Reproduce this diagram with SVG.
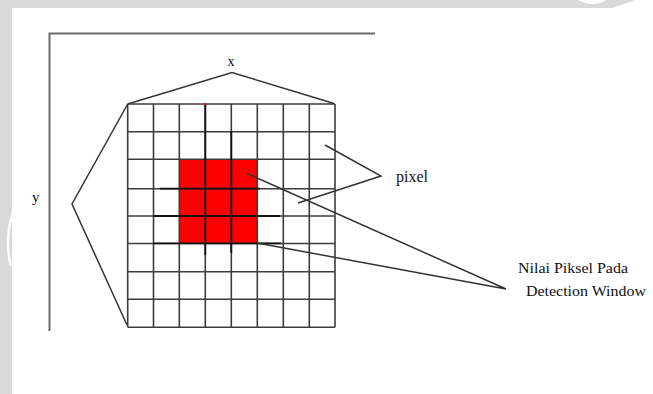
<svg xmlns="http://www.w3.org/2000/svg" width="653" height="394" viewBox="0 0 653 394">
  <style>
    .axis{stroke:#6a6a6a;stroke-width:2;fill:none}
    .grid{stroke:#3c3c3c;stroke-width:1.6;fill:none}
    .dark{stroke:#111;stroke-width:1.8;fill:none}
    .conn{stroke:#333;stroke-width:1.5;fill:none}
    .lbl{font-family:"Liberation Serif","Times New Roman",serif;fill:#111}
  </style>
  <g id="background">
    <rect x="0" y="0" width="653" height="394" fill="#d9d9d9"/>
    <rect x="12" y="8" width="641" height="386" fill="#ffffff"/>
    <path d="M578,0 Q590,7 603,2 L606,0 Z" fill="#ffffff"/>
    <path d="M612,8 L636,0 L653,0 L653,8 Z" fill="#ffffff"/>
    <path d="M13,212 Q4,240 11,266" stroke="#ffffff" stroke-width="2.5" fill="none"/>
  </g>
  <g id="axes">
    <path class="axis" d="M375,33.5 H49.5 V331"/>
  </g>
  <g id="grid">
    <rect x="179" y="159" width="78" height="84.5" fill="#ff0000"/>
    <path class="grid" d="M127.7,104V327.3M153.5,104V327.3M179.3,104V327.3M205.3,104V327.3M231.3,104V327.3M257.3,104V327.3M283.3,104V327.3M309.3,104V327.3M335,104V327.3"/>
    <path class="grid" d="M127.7,104H335M127.7,131.7H335M127.7,159.3H335M127.7,188.7H335M127.7,216H335M127.7,243.5H335M127.7,271.7H335M127.7,299.3H335M127.7,327.3H335"/>
    <path class="dark" d="M160,188.7H260M153,216H280M153,243.3H281M205.3,104V255M231.3,131V253"/>
    <rect x="204" y="103" width="2" height="2" fill="#ff0000"/>
  </g>
  <g id="connectors">
    <path class="conn" d="M127.7,104 L232,72.5 L334,103.5"/>
    <path class="conn" d="M127.7,104 L72,204 L127,325"/>
    <path class="conn" d="M325,145 L381,176 L298,203"/>
    <path class="conn" d="M247,173.5 L506,289 M257,243 L506,289"/>
  </g>
  <g id="label-x"><text class="lbl" x="231" y="66" font-size="14" text-anchor="middle">x</text></g>
  <g id="label-y"><text class="lbl" x="32" y="202" font-size="15">y</text></g>
  <g id="label-pixel"><text class="lbl" x="396" y="182" font-size="16">pixel</text></g>
  <g id="label-window">
    <text class="lbl" x="518" y="273" font-size="15" textLength="110" lengthAdjust="spacingAndGlyphs">Nilai Piksel Pada</text>
    <text class="lbl" x="526" y="296" font-size="15" textLength="120" lengthAdjust="spacingAndGlyphs">Detection Window</text>
  </g>
</svg>
